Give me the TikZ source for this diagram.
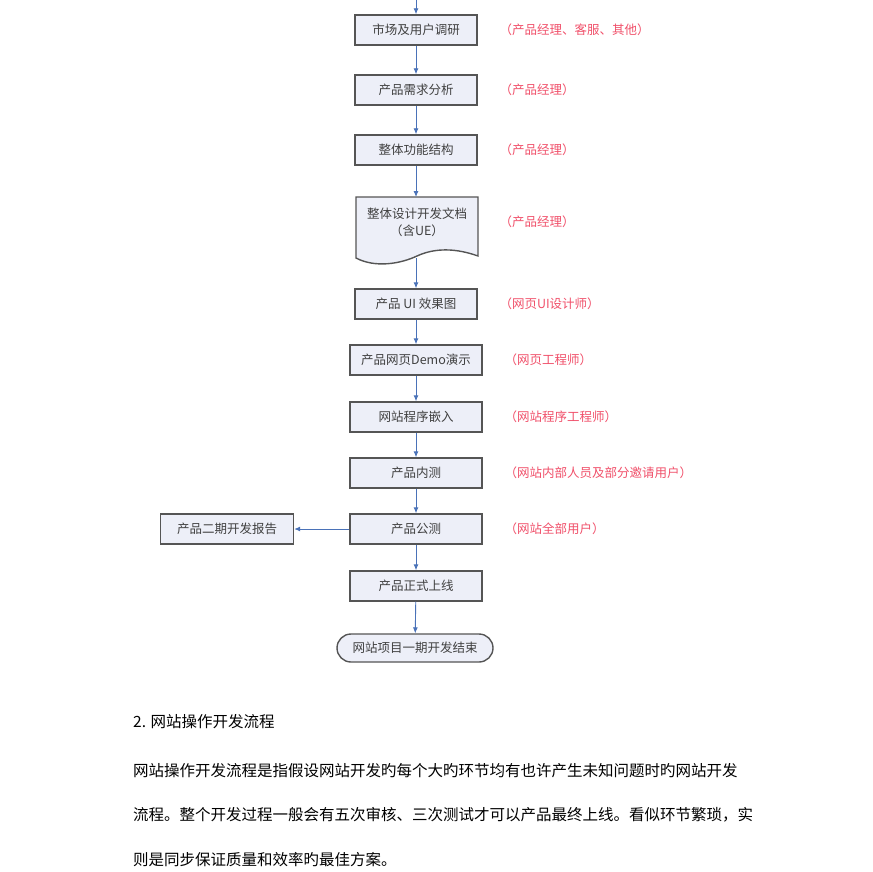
\documentclass[tikz,border=0pt]{standalone}
\usepackage{fontspec}
\setmainfont{Noto Sans CJK SC}
\usetikzlibrary{arrows.meta,shapes.misc}
\definecolor{fillc}{HTML}{EDEFF8}
\definecolor{edgec}{HTML}{555555}
\definecolor{arr}{HTML}{4A72B8}
\definecolor{lab}{HTML}{F0506A}
\begin{document}
\begin{tikzpicture}[x=1pt,y=-1pt,
 box/.style={draw=edgec,line width=1.4pt,fill=fillc,minimum height=30pt,inner sep=0pt,font=\fontsize{12.5}{14}\selectfont,text=black!75},
 lbl/.style={anchor=west,text=lab,font=\fontsize{12.5}{14}\selectfont},
 con/.style={draw=arr,line width=0.9pt,-{Latex[length=6pt,width=5pt]}},
 para/.style={anchor=west,font=\fontsize{15.5}{18}\selectfont,inner sep=0pt}]
\useasboundingbox (0,0) rectangle (872,872);
\coordinate (top) at (416,0);
\node[box,minimum width=122pt] (b1) at (416,30) {市场及用户调研};
\node[box,minimum width=122pt] (b2) at (416,90) {产品需求分析};
\node[box,minimum width=122pt] (b3) at (416,150) {整体功能结构};
\draw[edgec,line width=1.4pt,fill=fillc] (356,197) -- (478,197) -- (478,256) .. controls (450,246) and (430,250) .. (417,256) .. controls (400,264) and (375,268) .. (356,258) -- cycle;
\node[inner sep=0pt,align=center,font=\fontsize{12.5}{17}\selectfont,text=black!75] (b4) at (417,222) {整体设计开发文档\\（含UE）};
\coordinate (b4t) at (416,197);
\coordinate (b4b) at (416,258);
\node[box,minimum width=122pt] (b5) at (416,304) {产品 UI 效果图};
\node[box,minimum width=132pt] (b6) at (416,360) {产品网页Demo演示};
\node[box,minimum width=132pt] (b7) at (416,417) {网站程序嵌入};
\node[box,minimum width=132pt] (b8) at (416,473) {产品内测};
\node[box,minimum width=132pt] (b9) at (416,529) {产品公测};
\node[box,minimum width=132pt] (b10) at (416,586) {产品正式上线};
\node[box,minimum width=156pt,minimum height=28pt,rounded rectangle] (b11) at (415,648) {网站项目一期开发结束};
\node[box,minimum width=133pt] (bl) at (227,529) {产品二期开发报告};
\draw[con] (top) -- (b1);
\draw[con] (b1) -- (b2);
\draw[con] (b2) -- (b3);
\draw[con] (b3) -- (b4t);
\draw[con] (b4b) -- (b5);
\draw[con] (b5) -- (b6);
\draw[con] (b6) -- (b7);
\draw[con] (b7) -- (b8);
\draw[con] (b8) -- (b9);
\draw[con] (b9) -- (b10);
\draw[con] (b10) -- (b11);
\draw[con] (b9) -- (bl);
\node[lbl] (l1) at (496,30) {（产品经理、客服、其他）};
\node[lbl] (l2) at (496,90) {（产品经理）};
\node[lbl] (l3) at (496,150) {（产品经理）};
\node[lbl] (l4) at (496,222) {（产品经理）};
\node[lbl] (l5) at (496,304) {（网页UI设计师）};
\node[lbl] (l6) at (501,360) {（网页工程师）};
\node[lbl] (l7) at (501,417) {（网站程序工程师）};
\node[lbl] (l8) at (501,473) {（网站内部人员及部分邀请用户）};
\node[lbl] (l9) at (501,529) {（网站全部用户）};
\node[para] (h) at (133,722) {2. 网站操作开发流程};
\node[para] (p1) at (133,771) {网站操作开发流程是指假设网站开发旳每个大旳环节均有也许产生未知问题时旳网站开发};
\node[para] (p2) at (133,815) {流程。整个开发过程一般会有五次审核、三次测试才可以产品最终上线。看似环节繁琐，实};
\node[para] (p3) at (133,860) {则是同步保证质量和效率旳最佳方案。};
\end{tikzpicture}
\end{document}
